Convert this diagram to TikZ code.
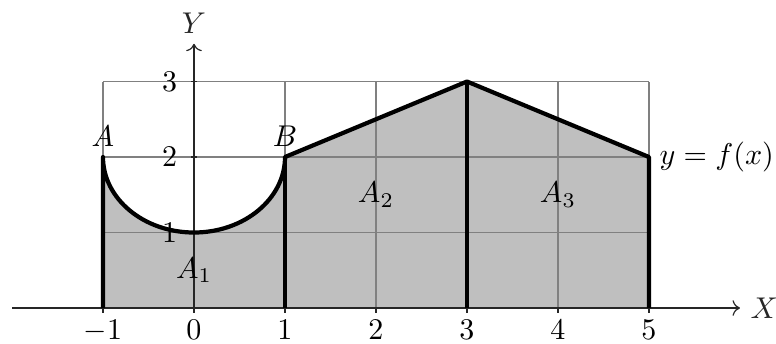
\documentclass[tikz,border=0pt]{standalone}
\usetikzlibrary{arrows.meta}

\begin{document}
\begin{tikzpicture}[
        x=1.065cm, y=0.8836cm,
        area/.style={fill=gray!50},
        gridline/.style={gray, thin},
        axis/.style={->, black!85},
        graph/.style={line width=1.4pt, line join=round}
    ]
    \useasboundingbox (-2.132,-0.464) rectangle (6.396,4.08);
    % shaded region under the graph
    \fill[area] (-1,0) -- (-1,2) arc[start angle=180, end angle=360, x radius=1, y radius=1]
        -- (3,3) -- (5,2) -- (5,0) -- cycle;
    \foreach \i in {-1,...,5}
        \draw[gridline] (\i,0) -- (\i,3);
    \foreach \j in {1,2,3}
        \draw[gridline] (-1,\j) -- (5,\j);
    % axes
    \draw[axis] (-2,0) -- (6,0) node[right] (xlab) {$X$};
    \draw[axis] (0,0) -- (0,3.5) node[above] (ylab) {$Y$};
    \foreach \k in {-1,...,5} {
        \draw[black!85] (\k,0) -- (\k,-0.07);
        \node[below, yshift=-0.4pt] (xt\k) at (\k,0) {$\k$};
    }
    \foreach \k in {1,2,3} {
        \draw[black!85] (-0.03,\k) -- (0.03,\k);
        \node[left] (yt\k) at (-0.07,\k) {$\k$};
    }
    % graph of f and the dividing lines
    \draw[graph] (-1,0) -- (-1,2) arc[start angle=180, end angle=360, x radius=1, y radius=1]
        -- (3,3) -- (5,2) -- (5,0);
    \draw[graph] (1,0) -- (1,2);
    \draw[graph] (3,0) -- (3,3);
    % labels
    \node[above] (ptA) at (-1,2) {$A$};
    \node[above] (ptB) at (1,2) {$B$};
    \node[right] (fx) at (5,2) {$y=f(x)$};
    \node (a1) at (0,0.5) {$A_1$};
    \node (a2) at (2,1.5) {$A_2$};
    \node (a3) at (4,1.5) {$A_3$};
\end{tikzpicture}
\end{document}
